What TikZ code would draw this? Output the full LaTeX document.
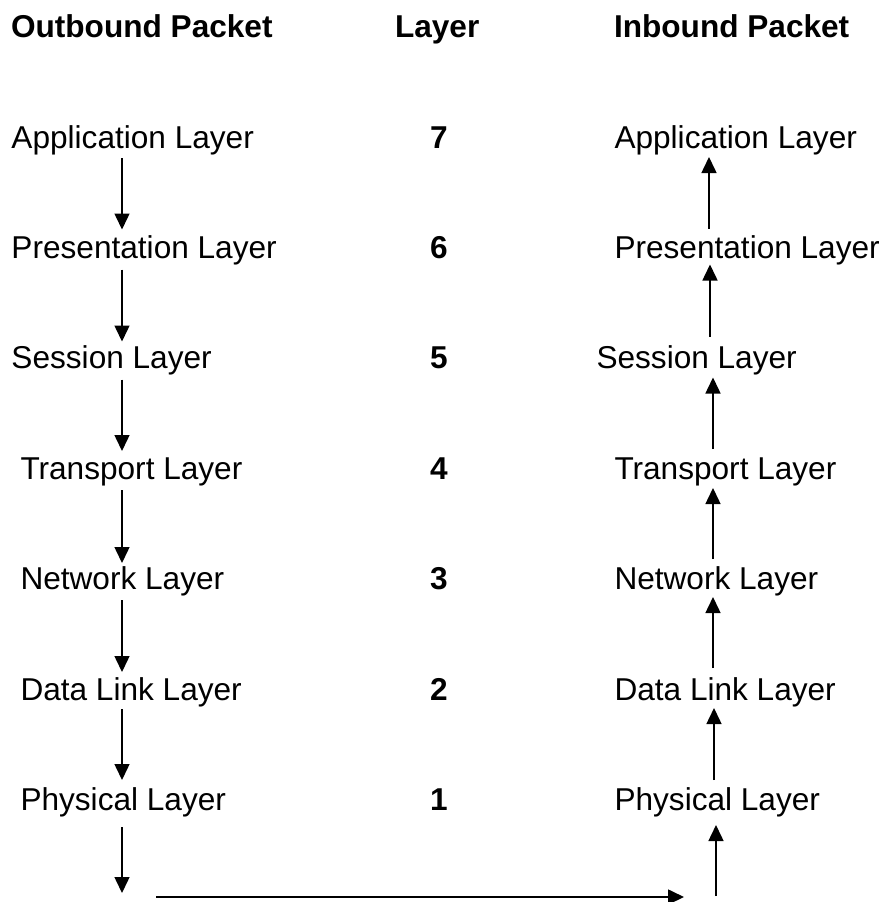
\documentclass[tikz,border=0pt]{standalone}
\usepackage{fontspec}
\setmainfont{Liberation Sans}
\usetikzlibrary{arrows.meta,calc}
\tikzset{
  lbl/.style={inner sep=0pt, outer sep=0pt, anchor=base west, font=\fontsize{31.6}{38}\selectfont},
  hdr/.style={lbl, font=\fontsize{31.6}{38}\selectfont\bfseries},
  num/.style={lbl, font=\fontsize{31.6}{38}\selectfont\bfseries},
  arr/.style={line width=1.5pt, -{Triangle[length=16pt,width=15pt]}},
}
\begin{document}
\begin{tikzpicture}[x=1pt,y=-1pt]
\useasboundingbox (0,0) rectangle (884,902);
% headers
\node[hdr] (hout) at (11,37.5) {Outbound Packet};
\node[hdr] (hlay) at (395,37.5) {Layer};
\node[hdr] (hin) at (614,37.5) {Inbound Packet};
% left column
\node[lbl] (o7) at (11.5,148) {Application Layer};
\node[lbl] (o6) at (11.5,258.5) {Presentation Layer};
\node[lbl] (o5) at (11.5,368.5) {Session Layer};
\node[lbl] (o4) at (20.5,479) {Transport Layer};
\node[lbl] (o3) at (20.5,589) {Network Layer};
\node[lbl] (o2) at (20.5,700) {Data Link Layer};
\node[lbl] (o1) at (20.5,810) {Physical Layer};
% numbers
\node[num] (n7) at (430,148) {7};
\node[num] (n6) at (430,258.5) {6};
\node[num] (n5) at (430,368.5) {5};
\node[num] (n4) at (430,479) {4};
\node[num] (n3) at (430,589) {3};
\node[num] (n2) at (430,700) {2};
\node[num] (n1) at (430,810) {1};
% right column
\node[lbl] (i7) at (614.5,148) {Application Layer};
\node[lbl] (i6) at (614.5,258.5) {Presentation Layer};
\node[lbl] (i5) at (596.5,368.5) {Session Layer};
\node[lbl] (i4) at (614.5,479) {Transport Layer};
\node[lbl] (i3) at (614.5,589) {Network Layer};
\node[lbl] (i2) at (614.5,700) {Data Link Layer};
\node[lbl] (i1) at (614.5,810) {Physical Layer};
% helper x positions
\coordinate (lx) at (122,0);
\coordinate (rx7) at (709,0);
\coordinate (rx6) at (710,0);
\coordinate (rx5) at (713,0);
\coordinate (rx4) at (713,0);
\coordinate (rx3) at (713,0);
\coordinate (rx2) at (714,0);
\coordinate (rx1) at (716,0);
% left arrows (down)
\draw[arr] ($(o7.base -| lx)+(0,10)$) -- ($(o6.base -| lx)+(0,-29)$);
\draw[arr] ($(o6.base -| lx)+(0,11)$) -- ($(o5.base -| lx)+(0,-27)$);
\draw[arr] ($(o5.base -| lx)+(0,11)$) -- ($(o4.base -| lx)+(0,-28)$);
\draw[arr] ($(o4.base -| lx)+(0,11)$) -- ($(o3.base -| lx)+(0,-26)$);
\draw[arr] ($(o3.base -| lx)+(0,11)$) -- ($(o2.base -| lx)+(0,-28)$);
\draw[arr] ($(o2.base -| lx)+(0,9)$) -- ($(o1.base -| lx)+(0,-30)$);
\coordinate (lend) at (122,893);
\draw[arr] ($(o1.base -| lx)+(0,17)$) -- (lend);
% bottom horizontal arrow
\coordinate (hstart) at (156,897);
\coordinate (hend) at (684,897);
\draw[arr, line width=1.7pt] (hstart) -- (hend);
% right arrows (up)
\coordinate (rstart) at (716,896);
\draw[arr] (rstart) -- ($(i1.base -| rx1)+(0,15)$);
\draw[arr] ($(i1.base -| rx2)+(0,-30)$) -- ($(i2.base -| rx2)+(0,8)$);
\draw[arr] ($(i2.base -| rx3)+(0,-32)$) -- ($(i3.base -| rx3)+(0,8)$);
\draw[arr] ($(i3.base -| rx4)+(0,-30)$) -- ($(i4.base -| rx4)+(0,9)$);
\draw[arr] ($(i4.base -| rx5)+(0,-30)$) -- ($(i5.base -| rx5)+(0,9)$);
\draw[arr] ($(i5.base -| rx6)+(0,-32)$) -- ($(i6.base -| rx6)+(0,6)$);
\draw[arr] ($(i6.base -| rx7)+(0,-30)$) -- ($(i7.base -| rx7)+(0,9)$);
\end{tikzpicture}
\end{document}
